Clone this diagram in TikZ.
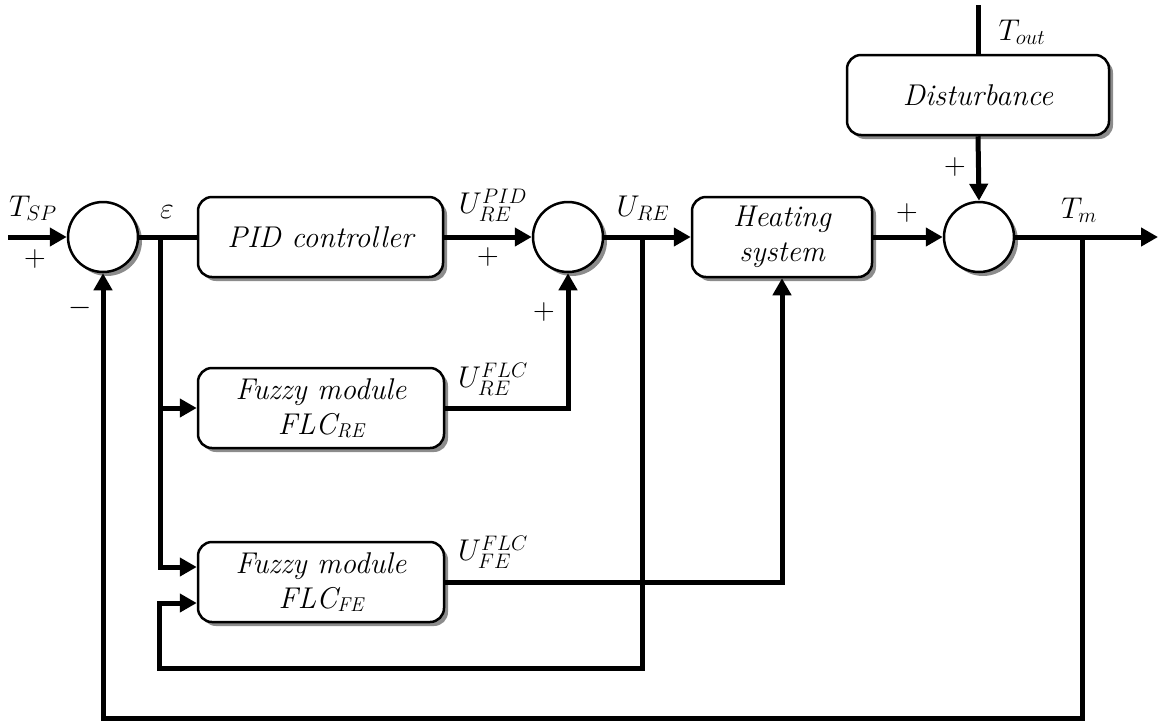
\RequirePackage{fix-cm}
\documentclass[tikz,border=0pt]{standalone}
\usetikzlibrary{arrows.meta,shadows}
\begin{document}
\begin{tikzpicture}[x=1pt,y=-1pt,
 shad/.style={drop shadow={shadow xshift=4pt, shadow yshift=-4pt, fill=black!45, opacity=1}},
 blk/.style={draw, line width=2.5pt, rounded corners=14pt, fill=white, inner sep=0pt, align=center,
   font=\fontsize{30}{35}\selectfont\itshape, shad},
 sumj/.style={draw, circle, line width=2.5pt, minimum size=70pt, inner sep=0pt, fill=white, shad},
 conn/.style={line width=5pt},
 arr/.style={conn, -{Triangle[length=17pt,width=18pt]}},
 lab/.style={font=\fontsize{30}{35}\selectfont, inner sep=0pt}]
\useasboundingbox (0,0) rectangle (1158,724);

% blocks
\node[blk, minimum width=245pt, minimum height=80pt] (pid) at (320.5,237) {PID controller};
\node[blk, minimum width=180pt, minimum height=80pt] (heat) at (782,237) {Heating\\system};
\node[blk, minimum width=262pt, minimum height=80pt] (dist) at (978,95) {Disturbance};
\node[blk, minimum width=246pt, minimum height=80pt] (fre) at (321,408) {Fuzzy module\\FLC\raisebox{-3pt}{\fontsize{20}{20}\selectfont RE}};
\node[blk, minimum width=246pt, minimum height=80pt] (ffe) at (321,582) {Fuzzy module\\FLC\raisebox{-3pt}{\fontsize{20}{20}\selectfont FE}};

% summing junctions
\node[sumj] (s1) at (103,237) {};
\node[sumj] (s2) at (568,237) {};
\node[sumj] (s3) at (979,237) {};

% coordinates
\coordinate (in) at (8,237);
\coordinate (out) at (1158,237);
\coordinate (top) at (978,5);
\coordinate (b1) at (160,237);
\coordinate (b1a) at (160,567);
\coordinate (b2) at (642,237);
\coordinate (b2a) at (642,668);
\coordinate (b2b) at (159,668);
\coordinate (b2c) at (159,603);
\coordinate (b3) at (1082,237);
\coordinate (b3a) at (1082,718);
\coordinate (b3b) at (103,718);

% connectors
\draw[arr] (in) -- (s1.west);
\draw[conn] (s1.east) -- (pid.west);
\draw[arr] (b1) |- (fre.west);
\draw[arr] (b1) -- (b1a) -- (ffe.west |- b1a);
\draw[arr] (pid.east) -- (s2.west);
\draw[arr] (fre.east) -| (s2.south);
\draw[arr] (s2.east) -- (heat.west);
\draw[arr] (b2) -- (b2a) -- (b2b) -- (b2c) -- (ffe.west |- b2c);
\draw[arr] (ffe.east) -| (heat.south);
\draw[arr] (heat.east) -- (s3.west);
\draw[conn] (top) -- (dist.north);
\draw[arr] (dist.south) -- (s3.north);
\draw[arr] (s3.east) -- (out);
\draw[arr] (b3) -- (b3a) -- (b3b) -- (s1.south);

% labels
\node[lab] (lTsp) at (33,208) {$T_{SP}$};
\node[lab] (lp1) at (35,259) {$+$};
\node[lab] (lm1) at (80,308) {$-$};
\node[lab] (leps) at (167,212) {$\varepsilon$};
\node[lab] (lupid) at (493,205) {$U_{RE}^{PID}$};
\node[lab] (lp2) at (488,257) {$+$};
\node[lab] (lp3) at (544,312) {$+$};
\node[lab] (lure) at (643,208) {$U_{RE}$};
\node[lab] (lufr) at (493,379) {$U_{RE}^{FLC}$};
\node[lab] (lufe) at (493,552) {$U_{FE}^{FLC}$};
\node[lab] (lp4) at (907,213) {$+$};
\node[lab] (lp5) at (955,167) {$+$};
\node[lab] (ltm) at (1079,210) {$T_m$};
\node[lab] (ltout) at (1022,32) {$T_{out}$};
\end{tikzpicture}
\end{document}
